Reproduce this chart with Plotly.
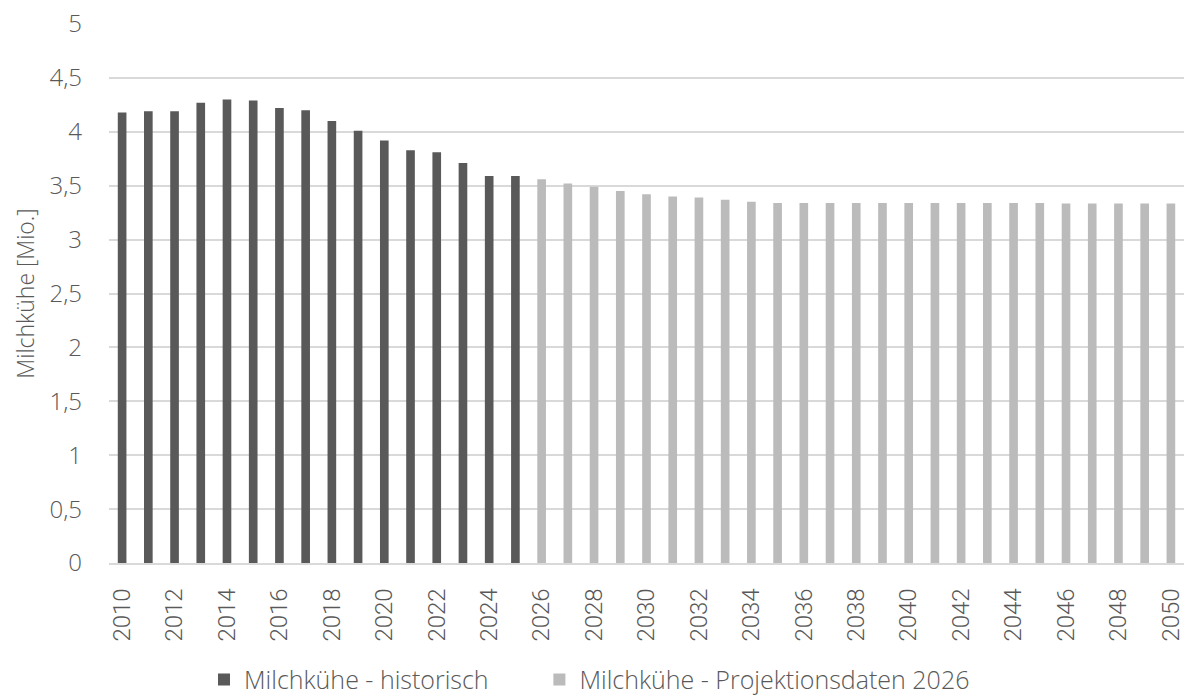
import plotly.graph_objects as go

# Milchkühe in Deutschland (Mio. Tiere)
years_hist = list(range(2010, 2026))
values_hist = [4.18, 4.19, 4.19, 4.27, 4.30, 4.29, 4.22, 4.20, 4.10, 4.01,
               3.92, 3.83, 3.81, 3.71, 3.59, 3.59]

years_proj = list(range(2026, 2051))
values_proj = [3.56, 3.52, 3.49, 3.45, 3.42, 3.40, 3.39, 3.37, 3.35, 3.34,
               3.34, 3.34, 3.34, 3.34, 3.34, 3.34, 3.34, 3.34, 3.34, 3.34,
               3.335, 3.335, 3.335, 3.335, 3.335]

y_ticks = [0, 0.5, 1, 1.5, 2, 2.5, 3, 3.5, 4, 4.5, 5]
x_ticks = list(range(2010, 2051, 2))

font_family = "Open Sans"
tick_family = "Roboto"
text_color = "#595959"
legend_font = dict(family=font_family, size=25, color=text_color, weight=300)

fig = go.Figure()
fig.add_trace(go.Bar(
    x=years_hist, y=values_hist, name="Milchkühe - historisch",
    marker=dict(color="#595959", line=dict(width=0)), legend="legend",
))
fig.add_trace(go.Bar(
    x=years_proj, y=values_proj, name="Milchkühe - Projektionsdaten 2026",
    marker=dict(color="#bbbbbb", line=dict(width=0)), legend="legend2",
))

fig.update_layout(
    width=1186, height=695,
    margin=dict(l=109, r=2, t=24, b=132, autoexpand=False),
    paper_bgcolor="white", plot_bgcolor="white",
    separators=",.",
    bargap=0.67,
    barmode="overlay",
    font=dict(family=font_family, color=text_color, size=20, weight=300),
    legend=dict(
        orientation="h", xref="container", x=0.172, xanchor="left",
        yref="container", y=0.022, yanchor="middle",
        font=legend_font, itemclick=False, itemwidth=30,
    ),
    legend2=dict(
        orientation="h", xref="container", x=0.4548, xanchor="left",
        yref="container", y=0.022, yanchor="middle",
        font=legend_font, itemclick=False, itemwidth=30,
    ),
    showlegend=True,
)
fig.update_xaxes(
    range=[2009.5, 2050.5], tickmode="array", tickvals=x_ticks,
    ticktext=[str(v) for v in x_ticks], tickangle=-90, automargin=False,
    showgrid=False, showline=True, linecolor="#d9d9d9", linewidth=1.5,
    ticks="", ticklabelstandoff=14, ticklabeloverflow="allow",
    tickfont=dict(family=tick_family, size=24, color=text_color, weight=300),
)
fig.update_yaxes(
    range=[0, 5], tickmode="array", tickvals=y_ticks, automargin=False,
    ticktext=[f"{v:g}".replace(".", ",") for v in y_ticks],
    showgrid=True, gridcolor="#d9d9d9", gridwidth=1.5,
    zeroline=False, showline=False, ticks="", ticklabelstandoff=26,
    tickfont=dict(family=font_family, size=24, color=text_color, weight=300),
    title=dict(text="Milchkühe [Mio.]", standoff=8,
               font=dict(family=font_family, size=23, color=text_color, weight=300)),
)

fig.write_html("out.html")
